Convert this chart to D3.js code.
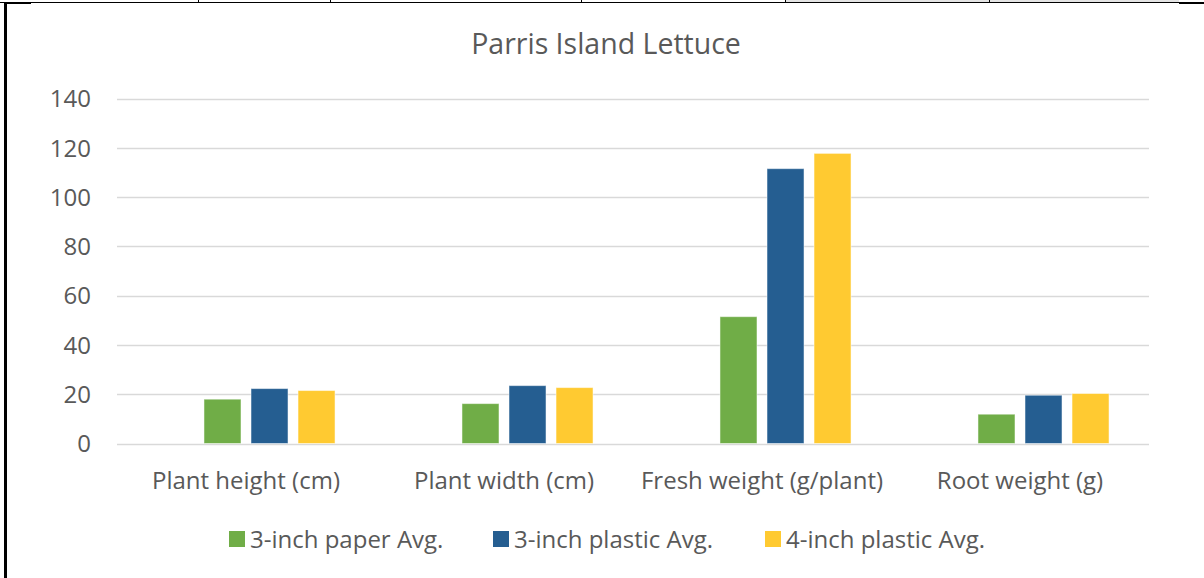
<!DOCTYPE html>
<html>
<head>
<meta charset="utf-8">
<script src="https://cdn.jsdelivr.net/npm/d3@7"></script>
<style>
    body { margin: 0; background: #fff; }
    text { font-family: "Open Sans", sans-serif; fill: #595959; }
</style>
</head>
<body>
<div id="chart"></div>
<script>
var categories = ["Plant height (cm)", "Plant width (cm)", "Fresh weight (g/plant)", "Root weight (g)"];
var seriesNames = ["3-inch paper Avg.", "3-inch plastic Avg.", "4-inch plastic Avg."];
var paperAvg = [18.0, 16.2, 51.5, 11.9];
var plasticAvg3 = [22.3, 23.5, 111.6, 19.6];
var plasticAvg4 = [21.5, 22.7, 117.8, 20.3];
var yTicks = [0, 20, 40, 60, 80, 100, 120, 140];
var colors = ["#70ad47", "#255e91", "#ffca31"];

function init() {
    var w = 1204;
    var h = 578;
    var left = 117, right = 1149, top = 98.7, bottom = 443.5;

    var svg = d3.select("#chart")
        .append("svg")
        .attr("width", w)
        .attr("height", h);

    // page / table border bits around the chart
    svg.append("rect").attr("x", 785).attr("y", 0).attr("width", 394).attr("height", 2).attr("fill", "#e4e4e4");
    svg.append("line").attr("x1", 0).attr("x2", 1204).attr("y1", 2.5).attr("y2", 2.5).attr("stroke", "#000").attr("stroke-width", 1);
    svg.append("line").attr("x1", 7).attr("x2", 31).attr("y1", 3).attr("y2", 3).attr("stroke", "#000").attr("stroke-width", 2);
    svg.append("line").attr("x1", 1179).attr("x2", 1204).attr("y1", 3).attr("y2", 3).attr("stroke", "#000").attr("stroke-width", 2);
    svg.append("line").attr("x1", 5.5).attr("x2", 5.5).attr("y1", 2).attr("y2", h).attr("stroke", "#000").attr("stroke-width", 3);
    [198, 330, 581, 785, 989].forEach(function(x) {
        svg.append("line").attr("x1", x + 0.5).attr("x2", x + 0.5).attr("y1", 0).attr("y2", 3).attr("stroke", "#000");
    });

    var series = [paperAvg, plasticAvg3, plasticAvg4];
    var data = categories.map(function(c, i) {
        return { cat: c, vals: series.map(function(s, j) { return { name: seriesNames[j], v: s[i], k: j }; }) };
    });

    var x0 = d3.scaleBand()
        .domain(categories)
        .range([left, right]);

    // first slot is an empty series in the original chart
    var x1 = d3.scaleBand()
        .domain(["", "0", "1", "2"])
        .range([0, x0.bandwidth()])
        .paddingInner(0.213)
        .paddingOuter(0.85);

    var y = d3.scaleLinear()
        .domain([0, 140])
        .range([bottom, top]);

    // gridlines
    svg.append("g")
        .selectAll("line")
        .data(yTicks)
        .enter()
        .append("line")
        .attr("x1", left)
        .attr("x2", right)
        .attr("y1", function(d) { return Math.round(y(d)) + 0.5; })
        .attr("y2", function(d) { return Math.round(y(d)) + 0.5; })
        .attr("stroke", "#d9d9d9")
        .attr("stroke-width", 1.3);

    // y tick labels
    svg.append("g")
        .selectAll("text")
        .data(yTicks)
        .enter()
        .append("text")
        .attr("x", 91)
        .attr("y", function(d) { return y(d); })
        .attr("dy", "0.36em")
        .attr("text-anchor", "end")
        .style("font-size", "24px")
        .text(function(d) { return d; });

    var groups = svg.append("g")
        .selectAll("g")
        .data(data)
        .enter()
        .append("g")
        .attr("transform", function(d) { return "translate(" + x0(d.cat) + ",0)"; });

    groups.selectAll("rect")
        .data(function(d) { return d.vals; })
        .enter()
        .append("rect")
        .attr("x", function(d) { return x1(String(d.k)); })
        .attr("y", function(d) { return y(d.v); })
        .attr("width", x1.bandwidth())
        .attr("height", function(d) { return bottom - y(d.v); })
        .attr("fill", function(d) { return colors[d.k]; })
        .attr("stroke", "#fff")
        .attr("stroke-opacity", 0.5)
        .attr("stroke-width", 1);

    // category labels
    svg.append("g")
        .selectAll("text")
        .data(categories)
        .enter()
        .append("text")
        .attr("x", function(d) { return x0(d) + x0.bandwidth() / 2; })
        .attr("y", 489)
        .attr("text-anchor", "middle")
        .style("font-size", "24px")
        .text(function(d) { return d; });

    // title
    svg.append("text")
        .attr("x", 606)
        .attr("y", 54)
        .attr("text-anchor", "middle")
        .style("font-size", "28.5px")
        .text("Parris Island Lettuce");

    // legend
    var legendX = [229, 493, 765];
    var legend = svg.append("g")
        .selectAll("g")
        .data(seriesNames)
        .enter()
        .append("g")
        .attr("transform", function(d, i) { return "translate(" + legendX[i] + ",531)"; });

    legend.append("rect")
        .attr("width", 16)
        .attr("height", 16)
        .attr("fill", function(d, i) { return colors[i]; });

    legend.append("text")
        .attr("x", 21)
        .attr("y", 8)
        .attr("dy", "0.36em")
        .style("font-size", "24px")
        .text(function(d) { return d; });
}

window.onload = init;
</script>
</body>
</html>
